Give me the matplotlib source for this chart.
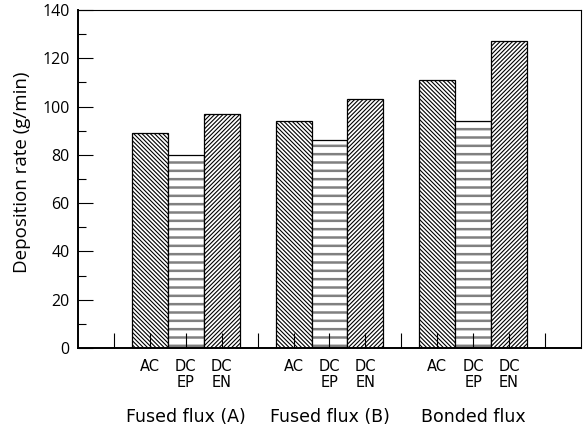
import matplotlib.pyplot as plt
from matplotlib.ticker import MultipleLocator

groups = ['Fused flux (A)', 'Fused flux (B)', 'Bonded flux']
ac = [89, 94, 111]
dcep = [80, 86, 94]
dcen = [97, 103, 127]
tick_labels = ['', 'AC', 'DC\nEP', 'DC\nEN'] * 3 + ['']

plt.rcParams['font.family'] = ['DejaVu Sans']
plt.rcParams['hatch.linewidth'] = 0.8

fig = plt.figure(figsize=(5.88, 4.32), dpi=100)
ax = fig.add_axes([0.1327, 0.1944, 0.8553, 0.7826])

xa = [2, 6, 10]
xp = [3, 7, 11]
xn = [4, 8, 12]
ax.bar(xa, ac, width=1, color='white', edgecolor='black', hatch='\\' * 8, linewidth=0.9)
bp = ax.bar(xp, dcep, width=1, color='white', edgecolor='0.5', hatch='--', linewidth=0)
for b in bp:
    try:
        b.set_hatch_linewidth(1.8)
    except AttributeError:
        pass
ax.bar(xp, dcep, width=1, fill=False, edgecolor='black', linewidth=0.9)
ax.bar(xn, dcen, width=1, color='white', edgecolor='black', hatch='/' * 8, linewidth=0.9)

ax.set_xlim(0, 14)
ax.set_ylim(0, 140)
ax.set_xticks(range(1, 14))
ax.set_xticklabels(tick_labels, fontsize=10.5, linespacing=1.05)
ax.yaxis.set_major_locator(MultipleLocator(20))
ax.yaxis.set_minor_locator(MultipleLocator(10))
ax.tick_params(axis='x', direction='in', length=11, width=0.8, pad=8)
ax.tick_params(axis='y', which='major', direction='in', length=11, width=0.8, pad=6, labelsize=11.5)
ax.tick_params(axis='y', which='minor', direction='in', length=6, width=0.8)
for lab in ax.get_yticklabels():
    lab.set_family('Open Sans')
for s in ax.spines.values():
    s.set_linewidth(0.8)
ax.spines['bottom'].set_linewidth(1.4)
ax.spines['left'].set_linewidth(1.4)

for g, x in zip(groups, xp):
    ax.text(x, -0.205, g, transform=ax.get_xaxis_transform(), ha='center', va='center', fontsize=12.5)

ax.set_ylabel('Deposition rate (g/min)', fontsize=13.5, family='Open Sans')
ax.yaxis.set_label_coords(-0.094, 0.52)

fig.savefig('out.png', dpi=100)
